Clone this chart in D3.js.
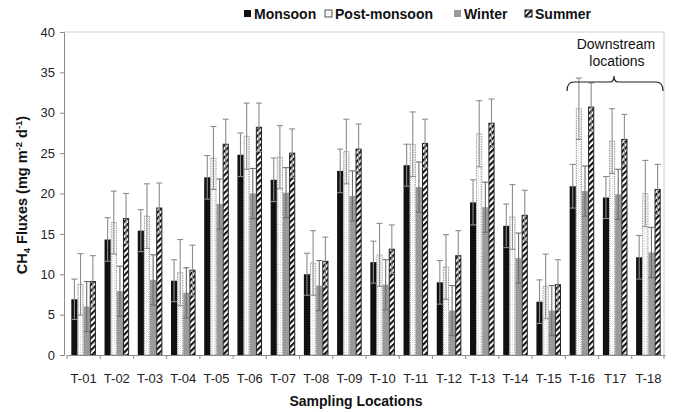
<!DOCTYPE html>
<html><head><meta charset="utf-8">
<script src="https://cdn.jsdelivr.net/npm/d3@7"></script>
<style>body{margin:0;background:#fff}svg{display:block;font-family:"Liberation Sans",Arial,sans-serif}</style>
</head><body><svg id="c" width="674" height="412"></svg>
<script>
const categories = ["T-01","T-02","T-03","T-04","T-05","T-06","T-07","T-08","T-09","T-10","T-11","T-12","T-13","T-14","T-15","T-16","T17","T-18"];
const seriesNames = ["Monsoon","Post-monsoon","Winter","Summer"];
const monsoon     = [6.9,14.3,15.4,9.2,22.0,24.8,21.7,10.0,22.8,11.5,23.5,9.0,18.9,16.0,6.6,20.9,19.5,12.1];
const postMonsoon = [8.75,16.4,17.2,10.2,24.4,27.1,24.5,11.4,25.2,12.4,26.1,10.9,27.4,17.1,8.5,30.5,26.5,20.0];
const winter      = [6.0,7.9,9.3,7.7,18.7,20.0,20.1,8.6,19.7,8.7,20.8,5.5,18.3,12.0,5.5,20.3,19.9,12.7];
const summer      = [9.1,16.9,18.2,10.5,26.1,28.2,25.0,11.6,25.5,13.1,26.2,12.3,28.7,17.3,8.7,30.7,26.7,20.5];
const monsoonErr  = [2.5,2.7,2.6,2.6,2.7,2.7,2.7,2.6,2.7,2.6,2.6,2.7,2.8,2.7,2.7,2.7,2.6,2.7];
const postErr     = [3.8,3.9,4.0,4.1,3.9,4.1,3.9,4.0,4.0,3.9,4.0,4.0,4.1,4.0,4.0,3.8,4.0,4.1];
const winterErr   = [3.1,3.1,3.1,3.1,3.1,3.1,3.1,3.1,3.1,3.1,3.1,3.1,3.1,3.1,3.1,3.1,3.1,3.1];
const summerErr   = [3.2,3.1,3.1,3.1,3.1,3.0,3.0,3.0,3.1,3.0,3.0,3.1,3.0,3.1,3.1,3.0,3.1,3.1];
const yTicks = [0,5,10,15,20,25,30,35,40];

const values = [monsoon, postMonsoon, winter, summer];
const errors = [monsoonErr, postErr, winterErr, summerErr];

const svg = d3.select("#c");
const defs = svg.append("defs");
const hatch = defs.append("pattern").attr("id","hatch").attr("patternUnits","userSpaceOnUse")
  .attr("width",4.2).attr("height",4.2).attr("patternTransform","rotate(45)");
hatch.append("rect").attr("width",4.2).attr("height",4.2).attr("fill","#fff");
hatch.append("rect").attr("x",0).attr("width",2.1).attr("height",4.2).attr("fill","#111");
const dots = defs.append("pattern").attr("id","dots").attr("patternUnits","userSpaceOnUse")
  .attr("width",2).attr("height",2);
dots.append("rect").attr("width",2).attr("height",2).attr("fill","#fff");
dots.append("rect").attr("width",1).attr("height",1).attr("fill","#d8d8d8");

const fills = ["#111","url(#dots)","#9a9a9a","url(#hatch)"];
const strokes = ["none","#8a8a8a","none","#222"];

const x0 = d3.scaleBand().domain(categories).range([67,665]).paddingInner(0.26).paddingOuter(0.13);
const x1 = d3.scaleBand().domain(seriesNames).range([0,x0.bandwidth()]);
const y = d3.scaleLinear().domain([0,40]).range([355,32]);

// plot frame
svg.append("line").attr("x1",64).attr("x2",664).attr("y1",y(40)).attr("y2",y(40)).attr("stroke","#cfcfcf");
svg.append("line").attr("x1",664).attr("x2",664).attr("y1",y(40)).attr("y2",y(0)).attr("stroke","#cfcfcf");

const data = [];
categories.forEach((c,i)=>seriesNames.forEach((s,k)=>data.push({c,s,k,v:values[k][i],e:errors[k][i]})));

svg.append("g").selectAll("rect").data(data).join("rect")
  .attr("x",d=>x0(d.c)+x1(d.s)+(d.k===1||d.k===3?0.5:0))
  .attr("width",d=>x1.bandwidth()-(d.k===1||d.k===3?1:0))
  .attr("y",d=>y(d.v)).attr("height",d=>y(0)-y(d.v))
  .attr("fill",d=>fills[d.k]).attr("stroke",d=>strokes[d.k])
  .attr("stroke-width",d=>d.k===3?1:0.9)
  .attr("stroke-dasharray",d=>d.k===1?"1.5,1":null);

// error bars
const eb = svg.append("g").attr("stroke-width",1.1);
data.forEach(d=>{
  const cx = x0(d.c)+x1(d.s)+x1.bandwidth()/2;
  const col = d.k===2?"#6e6e6e":"#8c8c8c";
  const lo = Math.max(0,d.v-d.e), hi = d.v+d.e;
  eb.append("line").attr("x1",cx).attr("x2",cx).attr("y1",y(lo)).attr("y2",y(hi)).attr("stroke",col);
  eb.append("line").attr("x1",cx-3).attr("x2",cx+3).attr("y1",y(hi)).attr("y2",y(hi)).attr("stroke",col);
  eb.append("line").attr("x1",cx-3).attr("x2",cx+3).attr("y1",y(lo)).attr("y2",y(lo)).attr("stroke",col);
});

// y axis
const ya = svg.append("g").attr("transform","translate(64,0)")
  .call(d3.axisLeft(y).tickValues(yTicks).tickSize(4).tickPadding(5));
ya.select(".domain").attr("stroke","#8a8a8a");
ya.selectAll(".tick line").attr("stroke","#8a8a8a");
ya.selectAll("text").attr("font-size","13px").attr("fill","#222").attr("font-family","Liberation Sans, Arial, sans-serif");

// x axis
const xa = svg.append("g").attr("transform","translate(0,355)")
  .call(d3.axisBottom(x0).tickSize(0).tickPadding(19));
xa.select(".domain").attr("stroke","#8a8a8a");
xa.selectAll("text").attr("font-size","13px").attr("fill","#222").attr("font-family","Liberation Sans, Arial, sans-serif");
const step = x0.step();
categories.forEach((c,i)=>{
  const bx = x0(c) - x0.paddingInner()*step/2;
  xa.append("line").attr("x1",bx).attr("x2",bx).attr("y1",0).attr("y2",4).attr("stroke","#8a8a8a");
});
xa.append("line").attr("x1",664).attr("x2",664).attr("y1",0).attr("y2",4).attr("stroke","#8a8a8a");

// axis titles
svg.append("text").attr("x",356).attr("y",406).attr("text-anchor","middle")
  .attr("font-size","14px").attr("font-weight","bold").attr("fill","#111").text("Sampling Locations");
const yt = svg.append("text").attr("transform","translate(27,195) rotate(-90)").attr("text-anchor","middle")
  .attr("font-size","14.5px").attr("font-weight","bold").attr("fill","#111");
yt.append("tspan").text("CH");
yt.append("tspan").attr("font-size","9.5px").attr("dy",3).text("4");
yt.append("tspan").attr("dy",-3).text(" Fluxes (mg m");
yt.append("tspan").attr("font-size","9.5px").attr("dy",-5).text("-2");
yt.append("tspan").attr("dy",5).text(" d");
yt.append("tspan").attr("font-size","9.5px").attr("dy",-5).text("-1");
yt.append("tspan").attr("dy",5).text(")");

// legend
const legX = [244,325,454,525];
const lg = svg.append("g");
seriesNames.forEach((s,k)=>{
  lg.append("rect").attr("x",legX[k]).attr("y",10).attr("width",7).attr("height",7)
    .attr("fill",fills[k]).attr("stroke",k===1?"#555":(k===3?"#111":"none")).attr("stroke-width",1);
  lg.append("text").attr("x",legX[k]+10).attr("y",19).attr("font-size","14px").attr("font-weight","bold")
    .attr("fill","#111").text(s);
});

// downstream annotation
svg.append("text").attr("x",616).attr("y",49).attr("text-anchor","middle").attr("font-size","14px").attr("fill","#111").text("Downstream");
svg.append("text").attr("x",617).attr("y",66).attr("text-anchor","middle").attr("font-size","14px").attr("fill","#111").text("locations");
svg.append("path").attr("fill","none").attr("stroke","#222").attr("stroke-width",1.2)
  .attr("d","M567,91 Q567,82 574,82 L610,82 Q614,82 614,76 Q614,82 618,82 L656,82 Q663,82 663,91");
</script></body></html>
